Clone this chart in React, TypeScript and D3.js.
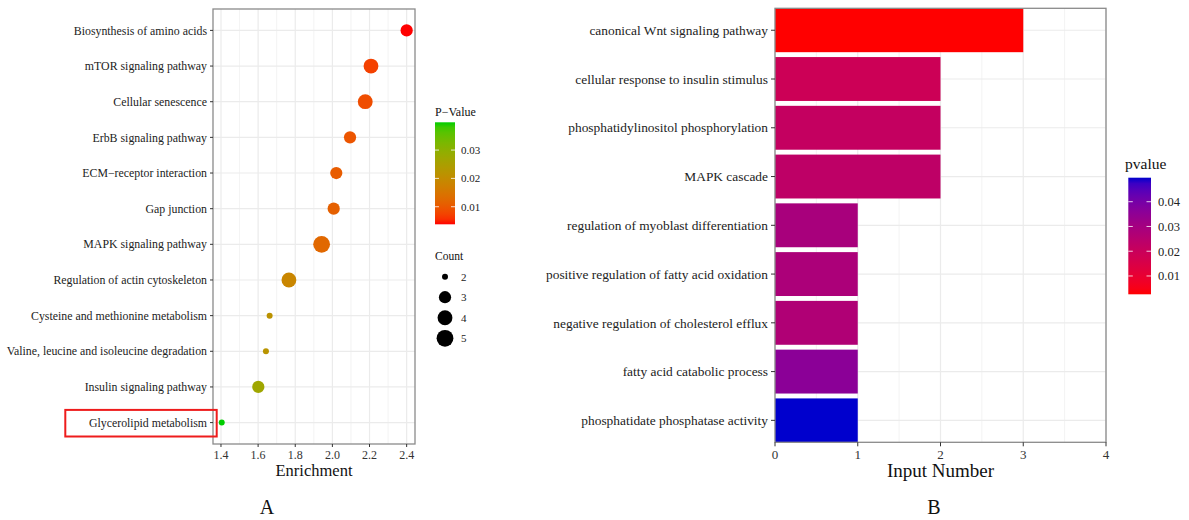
import React from 'react';
import * as d3 from 'd3';

// KEGG enrichment (panel A), top to bottom
const keggTerms = [
  'Biosynthesis of amino acids',
  'mTOR signaling pathway',
  'Cellular senescence',
  'ErbB signaling pathway',
  'ECM\u2212receptor interaction',
  'Gap junction',
  'MAPK signaling pathway',
  'Regulation of actin cytoskeleton',
  'Cysteine and methionine metabolism',
  'Valine, leucine and isoleucine degradation',
  'Insulin signaling pathway',
  'Glycerolipid metabolism',
];
const keggEnrichment = [2.4, 2.208, 2.177, 2.095, 2.021, 2.007, 1.942, 1.766, 1.662, 1.642, 1.601, 1.404];
const keggCount = [3, 4, 4, 3, 3, 3, 5, 4, 2, 2, 3, 2];
const keggPValue = [0.0038, 0.0072, 0.0085, 0.0095, 0.0105, 0.0112, 0.0125, 0.0185, 0.0215, 0.022, 0.027, 0.0398];

// GO terms (panel B), top to bottom
const goTerms = [
  'canonical Wnt signaling pathway',
  'cellular response to insulin stimulus',
  'phosphatidylinositol phosphorylation',
  'MAPK cascade',
  'regulation of myoblast differentiation',
  'positive regulation of fatty acid oxidation',
  'negative regulation of cholesterol efflux',
  'fatty acid catabolic process',
  'phosphatidate phosphatase activity',
];
const goInput = [3, 2, 2, 2, 1, 1, 1, 1, 1];
const goPValue = [0.0026, 0.019, 0.0215, 0.023, 0.029, 0.028, 0.027, 0.036, 0.0497];

const enrichTicks = [1.4, 1.6, 1.8, 2.0, 2.2, 2.4];
const enrichMinor = [1.5, 1.7, 1.9, 2.1, 2.3];
const pTicksA = [0.01, 0.02, 0.03];
const countLevels = [2, 3, 4, 5];
const inputTicks = [0, 1, 2, 3, 4];
const inputMinor = [0.5, 1.5, 2.5, 3.5];
const pTicksB = [0.01, 0.02, 0.03, 0.04];

const FONT = '"Liberation Serif", "Times New Roman", serif';
const GRID = '#ebebeb';
const BORDER = '#8a8a8a';

export default function App() {
  // panel A
  const pa = { left: 213, right: 415, top: 9, bottom: 444 };
  const xA = d3.scaleLinear().domain([1.357, 2.445]).range([pa.left, pa.right]);
  const yA = d3.scalePoint<string>().domain(keggTerms).range([pa.top, pa.bottom]).padding(0.6);
  const colA = d3.scaleLinear<string>().domain([0.0038, 0.0398]).range(['#ff0000', '#00cd00']).interpolate(d3.interpolateLab);
  const rA = (c: number) => 3 + 5.4 * Math.sqrt((c - 2) / 3);

  // legend A
  const legA = { x: 435, w: 20, top: 122.3, bottom: 224.3 };
  const lyA = d3.scaleLinear().domain([0.0038, 0.0398]).range([legA.bottom, legA.top]);
  const countY = d3.scalePoint<number>().domain(countLevels).range([276.7, 338.3]);

  // panel B
  const pb = { left: 775, right: 1106, top: 8.3, bottom: 442.3 };
  const xB = d3.scaleLinear().domain([0, 4]).range([pb.left, pb.right]);
  const yB = d3.scaleBand<string>().domain(goTerms).range([pb.top, pb.bottom]).paddingInner(0.1).paddingOuter(0);
  const colB = d3.scaleLinear<string>().domain([0.0026, 0.0497]).range(['#ff0000', '#0000cd']).interpolate(d3.interpolateLab);

  const legB = { x: 1128.3, w: 22.7, top: 177.7, bottom: 294.3 };
  const lyB = d3.scaleLinear().domain([0.0026, 0.0497]).range([legB.bottom, legB.top]);

  const stops = d3.range(0, 1.0001, 0.05);
  const glyA = yA('Glycerolipid metabolism') as number;

  return (
    <svg width={1189} height={520} style={{ position: 'absolute', left: 0, top: 0, background: '#fff' }} fontFamily={FONT}>
      <defs>
        <linearGradient id="gradA" x1="0" y1="1" x2="0" y2="0">
          {stops.map((t) => (
            <stop key={t} offset={t} stopColor={colA(0.0038 + t * (0.0398 - 0.0038))} />
          ))}
        </linearGradient>
        <linearGradient id="gradB" x1="0" y1="1" x2="0" y2="0">
          {stops.map((t) => (
            <stop key={t} offset={t} stopColor={colB(0.0026 + t * (0.0497 - 0.0026))} />
          ))}
        </linearGradient>
      </defs>
      <rect width={1189} height={520} fill="#fff" />

      {/* ---- Panel A ---- */}
      <g>
        {enrichMinor.map((v) => (
          <line key={'mn' + v} x1={xA(v)} x2={xA(v)} y1={pa.top} y2={pa.bottom} stroke={GRID} strokeWidth={0.6} />
        ))}
        {enrichTicks.map((v) => (
          <line key={'mj' + v} x1={xA(v)} x2={xA(v)} y1={pa.top} y2={pa.bottom} stroke={GRID} strokeWidth={1.2} />
        ))}
        {keggTerms.map((t) => (
          <line key={'gy' + t} x1={pa.left} x2={pa.right} y1={yA(t)} y2={yA(t)} stroke={GRID} strokeWidth={1.2} />
        ))}
        {keggTerms.map((t, i) => (
          <circle key={'pt' + t} cx={xA(keggEnrichment[i])} cy={yA(t)} r={rA(keggCount[i])} fill={colA(keggPValue[i])} />
        ))}
        <rect x={pa.left} y={pa.top} width={pa.right - pa.left} height={pa.bottom - pa.top} fill="none" stroke={BORDER} strokeWidth={1.3} />
        {keggTerms.map((t) => (
          <g key={'yl' + t}>
            <line x1={pa.left - 3} x2={pa.left} y1={yA(t)} y2={yA(t)} stroke="#333" />
            <text x={pa.left - 6} y={yA(t)} dy="0.35em" textAnchor="end" fontSize={11.85} fill="#222">{t}</text>
          </g>
        ))}
        {enrichTicks.map((v) => (
          <g key={'xl' + v}>
            <line x1={xA(v)} x2={xA(v)} y1={pa.bottom} y2={pa.bottom + 3} stroke="#333" />
            <text x={xA(v)} y={pa.bottom + 11} dy="0.35em" textAnchor="middle" fontSize={12} fill="#333">{v.toFixed(1)}</text>
          </g>
        ))}
        <text x={(pa.left + pa.right) / 2} y={470} dy="0.35em" textAnchor="middle" fontSize={16.5} fill="#111">Enrichment</text>
        <rect x={65.3} y={glyA - 12.7} width={151.4} height={26.6} fill="none" stroke="#ee1c1c" strokeWidth={2} />
        <text x={267} y={507} dy="0.35em" textAnchor="middle" fontSize={20} fill="#111">A</text>

        {/* legend A */}
        <text x={legA.x} y={112} dy="0.35em" fontSize={12} fill="#111">P{'\u2212'}Value</text>
        <rect x={legA.x} y={legA.top} width={legA.w} height={legA.bottom - legA.top} fill="url(#gradA)" />
        {pTicksA.map((v) => (
          <g key={'la' + v}>
            <line x1={legA.x} x2={legA.x + 4} y1={lyA(v)} y2={lyA(v)} stroke="#fff" strokeWidth={0.8} />
            <line x1={legA.x + legA.w - 4} x2={legA.x + legA.w} y1={lyA(v)} y2={lyA(v)} stroke="#fff" strokeWidth={0.8} />
            <text x={461} y={lyA(v)} dy="0.35em" fontSize={11} fill="#222">{v.toFixed(2)}</text>
          </g>
        ))}
        <text x={legA.x} y={256} dy="0.35em" fontSize={11.5} fill="#111">Count</text>
        {countLevels.map((c) => (
          <g key={'lc' + c}>
            <circle cx={445} cy={countY(c)} r={rA(c)} fill="#000" />
            <text x={461} y={countY(c)} dy="0.35em" fontSize={11} fill="#222">{c}</text>
          </g>
        ))}
      </g>

      {/* ---- Panel B ---- */}
      <g>
        {inputMinor.map((v) => (
          <line key={'bm' + v} x1={xB(v)} x2={xB(v)} y1={pb.top} y2={pb.bottom} stroke={GRID} strokeWidth={0.6} />
        ))}
        {inputTicks.map((v) => (
          <line key={'bj' + v} x1={xB(v)} x2={xB(v)} y1={pb.top} y2={pb.bottom} stroke={GRID} strokeWidth={1.2} />
        ))}
        {goTerms.map((t) => (
          <line key={'by' + t} x1={pb.left} x2={pb.right} y1={(yB(t) as number) + yB.bandwidth() / 2} y2={(yB(t) as number) + yB.bandwidth() / 2} stroke={GRID} strokeWidth={1.2} />
        ))}
        {goTerms.map((t, i) => (
          <rect key={'bar' + t} x={xB(0)} y={yB(t)} width={xB(goInput[i]) - xB(0)} height={yB.bandwidth()} fill={colB(goPValue[i])} />
        ))}
        <rect x={pb.left} y={pb.top} width={pb.right - pb.left} height={pb.bottom - pb.top} fill="none" stroke={BORDER} strokeWidth={1.3} />
        {goTerms.map((t) => {
          const cy = (yB(t) as number) + yB.bandwidth() / 2;
          return (
            <g key={'bl' + t}>
              <line x1={pb.left - 4} x2={pb.left} y1={cy} y2={cy} stroke="#333" />
              <text x={pb.left - 7} y={cy} dy="0.35em" textAnchor="end" fontSize={13.4} fill="#222">{t}</text>
            </g>
          );
        })}
        {inputTicks.map((v) => (
          <g key={'bx' + v}>
            <line x1={xB(v)} x2={xB(v)} y1={pb.bottom} y2={pb.bottom + 4} stroke="#333" />
            <text x={xB(v)} y={pb.bottom + 12} dy="0.35em" textAnchor="middle" fontSize={13} fill="#333">{v}</text>
          </g>
        ))}
        <text x={(pb.left + pb.right) / 2} y={470} dy="0.35em" textAnchor="middle" fontSize={19} fill="#111">Input Number</text>
        <text x={934} y={507} dy="0.35em" textAnchor="middle" fontSize={20} fill="#111">B</text>

        {/* legend B */}
        <text x={1125} y={164} dy="0.35em" fontSize={15.5} fill="#111">pvalue</text>
        <rect x={legB.x} y={legB.top} width={legB.w} height={legB.bottom - legB.top} fill="url(#gradB)" />
        {pTicksB.map((v) => (
          <g key={'lb' + v}>
            <line x1={legB.x} x2={legB.x + 4.5} y1={lyB(v)} y2={lyB(v)} stroke="#fff" strokeWidth={0.8} />
            <line x1={legB.x + legB.w - 4.5} x2={legB.x + legB.w} y1={lyB(v)} y2={lyB(v)} stroke="#fff" strokeWidth={0.8} />
            <text x={1158} y={lyB(v)} dy="0.35em" fontSize={12.5} fill="#222">{v.toFixed(2)}</text>
          </g>
        ))}
      </g>
    </svg>
  );
}
